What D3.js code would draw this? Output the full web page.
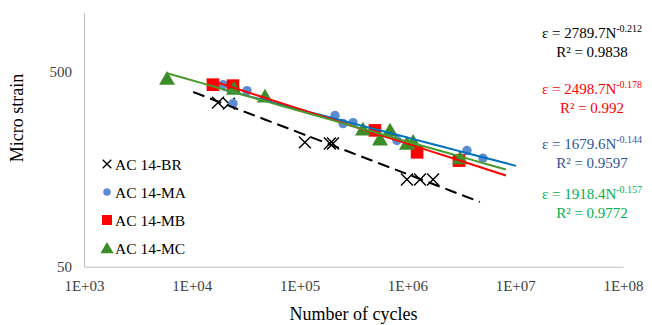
<!DOCTYPE html>
<html>
<head>
<meta charset="utf-8">
<script src="https://cdn.jsdelivr.net/npm/d3@7"></script>
<style>
  body { margin: 0; background: #fff; }
  svg text { font-family: "Liberation Serif", "Times New Roman", serif !important; }
</style>
</head>
<body>
<div id="chart"></div>
<script>
const width = 652, height = 325;
const margin = {top: 13, right: 29, bottom: 58.3, left: 84};

// series data: [cycles, micro strain]
const acBR = [[1.75e4, 347], [2.21e4, 343], [1.12e5, 217], [1.91e5, 214], [2.04e5, 214],
              [9.9e5, 140], [1.31e6, 140], [1.73e6, 140]];
const acMA = [[1.95e4, 429], [2.41e4, 343], [3.25e4, 400], [2.13e5, 298], [2.53e5, 271],
              [3.13e5, 274], [8.0e5, 222], [3.57e6, 197], [5.03e6, 180]];
const acMB = [[1.57e4, 429], [2.41e4, 424], [5.0e5, 250], [1.23e6, 193], [3.01e6, 175]];
const acMC = [[5.89e3, 460], [2.46e4, 409], [4.77e4, 373], [3.87e5, 253], [5.57e5, 225],
              [6.9e5, 250], [9.9e5, 214], [1.13e6, 219], [3.08e6, 180]];

// power trendlines eps = a * N^b, drawn between N0 and N1
const trendA = [2789.7, 1679.6, 2498.7, 1918.4];
const trendB = [-0.212, -0.144, -0.178, -0.157];
const trendR2 = ["0.9838", "0.9597", "0.992", "0.9772"];
const trendN0 = [1.03e4, 1.94e4, 1.57e4, 5.89e3];
const trendN1 = [4.7e6, 1.02e7, 8.2e6, 8.2e6];

const seriesNames = ["AC 14-BR", "AC 14-MA", "AC 14-MB", "AC 14-MC"];
const xTicks = [1e3, 1e4, 1e5, 1e6, 1e7, 1e8];
const yTicks = [50, 500];

const markerColor = ["#000000", "#5B8ED0", "#FF0000", "#3C8C2A"];
const lineColor = ["#000000", "#0070C0", "#FF0000", "#4A9A2E"];
const eqColor = ["#000000", "#2F5597", "#FF0000", "#00B050"];

const svg = d3.select("#chart").append("svg")
    .attr("width", width).attr("height", height)
    .attr("font-family", "Liberation Serif");

const x = d3.scaleLog().domain([1e3, 1e8]).range([margin.left, width - margin.right]);
const y = d3.scaleLog().domain([50, 1000]).range([height - margin.bottom, margin.top]);

//x axis
const xAxis = svg.append("g")
    .attr("transform", `translate(0,${height - margin.bottom})`)
    .call(d3.axisBottom(x).tickValues(xTicks).tickSize(0).tickPadding(14)
        .tickFormat(d => "1E+0" + Math.round(Math.log10(d))));
xAxis.attr("font-family", "Liberation Serif");
xAxis.select(".domain").attr("stroke", "#BFBFBF");
xAxis.selectAll("text").attr("font-size", "15px").attr("fill", "#404040");

//y axis
const yAxis = svg.append("g")
    .attr("transform", `translate(${margin.left},0)`)
    .call(d3.axisLeft(y).tickValues(yTicks).tickSize(0).tickPadding(12).tickFormat(d3.format("d")));
yAxis.attr("font-family", "Liberation Serif");
yAxis.select(".domain").attr("stroke", "#BFBFBF");
yAxis.selectAll("text").attr("font-size", "15px").attr("fill", "#404040");

//axis titles
svg.append("text")
    .attr("x", (margin.left + width - margin.right) / 2)
    .attr("y", 320)
    .attr("text-anchor", "middle")
    .attr("font-size", "18px")
    .text("Number of cycles");

svg.append("text")
    .attr("transform", "translate(23,118) rotate(-90)")
    .attr("text-anchor", "middle")
    .attr("font-size", "18px")
    .text("Micro strain");

//markers
const allSeries = [acBR, acMA, acMB, acMC];
const symbols = [d3.symbolTimes, d3.symbolCircle, d3.symbolSquare, d3.symbolTriangle];
const sizes = [95, 70, 160, 110];

function drawMarker(g, i, size) {
    const path = g.append("path").attr("d", d3.symbol().type(symbols[i]).size(size)());
    if (i === 0) {
        path.attr("fill", "none").attr("stroke", "#000").attr("stroke-width", 1.4);
    } else {
        path.attr("fill", markerColor[i]);
    }
    return path;
}

allSeries.forEach((data, i) => {
    data.forEach(d => {
        const g = svg.append("g")
            .attr("transform", `translate(${x(d[0])},${y(d[1]) + (i === 3 ? 1.5 : 0)})`);
        drawMarker(g, i, sizes[i]);
    });
});

//trendlines
const line = d3.line().x(d => x(d[0])).y(d => y(d[1]));
trendA.forEach((a, i) => {
    const pts = d3.range(0, 21).map(k => {
        const n = Math.pow(10, Math.log10(trendN0[i]) + k / 20 * (Math.log10(trendN1[i]) - Math.log10(trendN0[i])));
        return [n, a * Math.pow(n, trendB[i])];
    });
    svg.append("path")
        .attr("d", line(pts))
        .attr("fill", "none")
        .attr("stroke", lineColor[i])
        .attr("stroke-width", 2)
        .attr("stroke-dasharray", i === 0 ? "12,6" : null);
});

//legend
const legend = svg.append("g").attr("transform", "translate(107,164)");
seriesNames.forEach((name, i) => {
    const row = legend.append("g").attr("transform", `translate(0,${i * 28})`);
    drawMarker(row, i, [50, 45, 100, 75][i]).attr("transform", i === 3 ? "translate(0,1.5)" : null);
    row.append("text")
        .attr("x", 8)
        .attr("y", 5.5)
        .attr("font-size", "15.5px")
        .attr("fill", "#000")
        .text(name);
});

//equations
const eqY = [33, 144, 89, 194];
trendA.forEach((a, i) => {
    const t = svg.append("text")
        .attr("x", 592).attr("y", eqY[i] + 5)
        .attr("text-anchor", "middle")
        .attr("font-size", "15px")
        .attr("fill", eqColor[i]);
    t.append("tspan").text(`ε = ${a.toFixed(1)}N`);
    t.append("tspan").attr("dy", -6).attr("font-size", "10px").text(trendB[i].toFixed(3));
    svg.append("text")
        .attr("x", 592).attr("y", eqY[i] + 24)
        .attr("text-anchor", "middle")
        .attr("font-size", "15px")
        .attr("fill", eqColor[i])
        .text(`R² = ${trendR2[i]}`);
});
</script>
</body>
</html>
